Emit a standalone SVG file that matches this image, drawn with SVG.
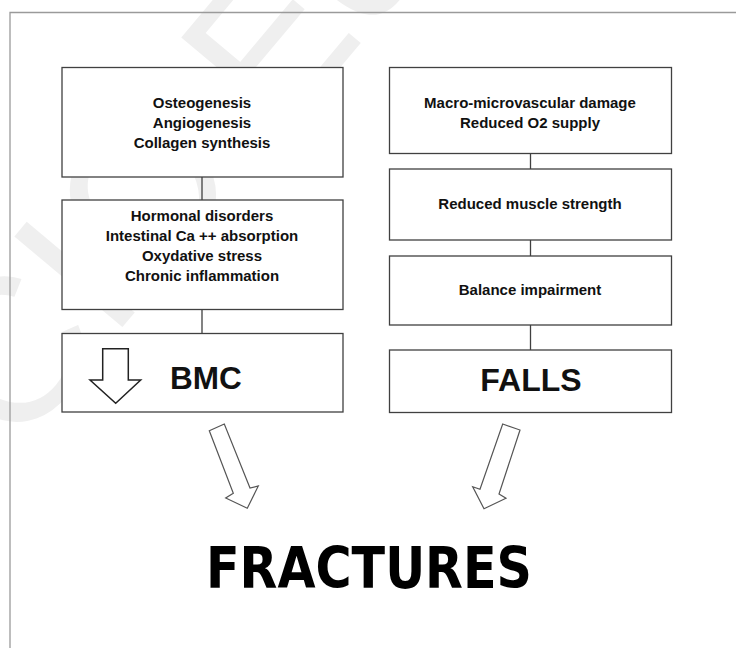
<svg xmlns="http://www.w3.org/2000/svg" width="736" height="648" viewBox="0 0 736 648">
<style>
.box{fill:#fff;stroke:#404040;stroke-width:1.3}
.t{font-family:"Liberation Sans",Arial,sans-serif;font-weight:bold;font-size:15px;fill:#111;text-anchor:middle}
.big{font-family:"Liberation Sans",Arial,sans-serif;font-weight:bold;fill:#111}
.conn{stroke:#404040;stroke-width:1.3;fill:none}
.harrow{fill:#fff;stroke:#555;stroke-width:1.2;stroke-linejoin:miter}
</style>
<rect width="736" height="648" fill="#fff"/>
<text transform="translate(15,455) rotate(-50)" font-family="Liberation Sans,Arial,sans-serif" font-size="205" fill="#efefef">CIC Edizioni</text>
<path d="M10,648 V12.5 H736" fill="none" stroke="#9a9a9a" stroke-width="1.3"/>
<g id="connectors">
<line class="conn" x1="202" y1="177" x2="202" y2="200"/>
<line class="conn" x1="202" y1="309.5" x2="202" y2="333.5"/>
<line class="conn" x1="530.5" y1="153.5" x2="530.5" y2="169"/>
<line class="conn" x1="530.5" y1="240" x2="530.5" y2="256"/>
<line class="conn" x1="530.5" y1="325" x2="530.5" y2="350"/>
<polygon class="harrow" points="209.3,430.7 224.3,424 250,488 258.3,486 247.3,508.3 225.7,498 233.3,493.3"/>
<polygon class="harrow" points="502.7,424 520,430 499,494 506,498.3 484,508.7 472.7,486.7 480,489.3"/>
</g>
<g id="osteogenesis">
<rect class="box" x="62" y="67.5" width="281" height="109.5"/>
<text class="t" x="202" y="108">Osteogenesis</text>
<text class="t" x="202" y="128">Angiogenesis</text>
<text class="t" x="202" y="147.5">Collagen synthesis</text>
</g>
<g id="hormonal">
<rect class="box" x="62" y="200" width="281" height="109.5"/>
<text class="t" x="202" y="220.5">Hormonal disorders</text>
<text class="t" x="202" y="240.5">Intestinal Ca ++ absorption</text>
<text class="t" x="202" y="260.5">Oxydative stress</text>
<text class="t" x="202" y="280.5">Chronic inflammation</text>
</g>
<g id="bmc">
<rect class="box" x="62" y="333.5" width="281" height="78.5"/>
<polygon points="102.7,348.7 128.3,348.7 128.3,380 140.7,380 115.7,403.3 90,380 102.7,380" fill="#fff" stroke="#222" stroke-width="1.5"/>
<text class="big" x="170" y="388.5" font-size="31.5">BMC</text>
</g>
<g id="macro">
<rect class="box" x="389.5" y="67.5" width="282" height="86"/>
<text class="t" x="530" y="107.7">Macro-microvascular damage</text>
<text class="t" x="530" y="127.7">Reduced O2 supply</text>
</g>
<g id="muscle">
<rect class="box" x="389.5" y="169" width="282" height="71"/>
<text class="t" x="530" y="209.3">Reduced muscle strength</text>
</g>
<g id="balance">
<rect class="box" x="389.5" y="256" width="282" height="69"/>
<text class="t" x="530" y="295">Balance impairment</text>
</g>
<g id="falls">
<rect class="box" x="389.5" y="350" width="282" height="62.5"/>
<text class="big" x="531" y="390.5" font-size="32" text-anchor="middle">FALLS</text>
</g>
<g id="fractures">
<text x="206" y="588" font-family="DejaVu Sans Condensed,DejaVu Sans,sans-serif" font-weight="bold" font-size="57" fill="#000" textLength="326" lengthAdjust="spacingAndGlyphs">FRACTURES</text>
</g>
</svg>
